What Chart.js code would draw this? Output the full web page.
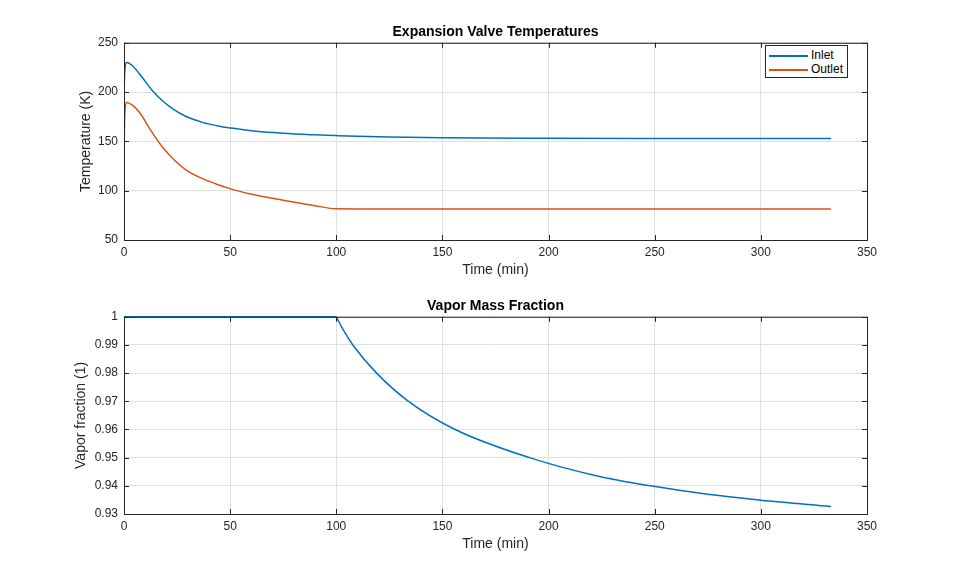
<!DOCTYPE html>
<html lang="en">
<head>
    <meta charset="UTF-8">
    <title>Expansion Valve Temperatures</title>
    <script src="https://cdn.jsdelivr.net/npm/chart.js"></script>
    <style>
        body { margin: 0; background: #fff; font-family: "Liberation Sans", Arial, sans-serif; }
        .wrap { position: relative; width: 959px; height: 577px; }
        .box { position: absolute; left: 0; width: 959px; }
        #legend {
            position: absolute; left: 765px; top: 45px; width: 81px; height: 31px;
            border: 1px solid #262626; background: #fff; font-size: 12px; color: #000;
        }
        #legend div { position: absolute; left: 3px; height: 14px; line-height: 14px; }
        #legend span.sw { display: inline-block; width: 39px; height: 2px; vertical-align: middle; margin-right: 3px; }
    </style>
</head>
<body>
<div class="wrap">
    <div class="box" style="top:0;height:290px"><canvas id="tempChart"></canvas></div>
    <div class="box" style="top:290px;height:287px"><canvas id="vaporChart"></canvas></div>
    <div id="legend">
        <div style="top:2px"><span class="sw" style="background:#0072BD"></span>Inlet</div>
        <div style="top:16px"><span class="sw" style="background:#D95319"></span>Outlet</div>
    </div>
</div>

<script>
    // time (min) and temperatures (K)
    const tempTime = [0, 0.4, 1.3, 3.8, 7, 13, 18, 23, 29, 37, 45, 50, 59, 75, 90, 100, 110, 125, 150, 200, 250, 300, 333];
    const inletTemp = [200, 222, 229.9, 227, 219.4, 202.4, 191.5, 183, 175.5, 169.3, 165.4, 163.7, 161.1, 158.3, 156.7, 155.9, 155.2, 154.5, 153.7, 153.2, 153, 153, 153];
    const outletTemp = [137.8, 178, 189.5, 187, 180.3, 159.9, 144.6, 132.7, 121.4, 112.2, 105.6, 102.1, 96.8, 90.3, 84.8, 81.6, 81.5, 81.5, 81.5, 81.5, 81.5, 81.5, 81.5];

    // vapor mass fraction (bottom plot): saturated until 100 min, then decaying
    const vaporFlatTime = [0, 100];
    const vaporFlat = [1, 1];
    const vaporTime = [100, 103.7, 107.8, 119, 134, 156, 191, 224, 248, 275, 300, 333];
    const vaporFrac = [1, 0.9948, 0.99, 0.98, 0.97, 0.96, 0.95, 0.9433, 0.94, 0.937, 0.9349, 0.9327];

    const tickColor = '#262626';
    const gridColor = '#dfdfdf';
    const baseFont = "'Liberation Sans', Arial, sans-serif";

    const toPts = (xs, ys) => xs.map((x, i) => ({ x: x, y: ys[i] }));

    // black box around the plot with small inward ticks, like the original
    const boxPlugin = {
        id: 'box',
        afterDraw(chart) {
            const { ctx, chartArea: a, scales } = chart;
            ctx.save();
            ctx.strokeStyle = tickColor;
            ctx.lineWidth = 1;
            ctx.strokeRect(a.left + 0.5, a.top + 0.5, a.right - a.left, a.bottom - a.top);
            ctx.beginPath();
            scales.x.ticks.forEach(t => {
                const px = Math.round(scales.x.getPixelForValue(t.value)) + 0.5;
                ctx.moveTo(px, a.bottom); ctx.lineTo(px, a.bottom - 5);
                ctx.moveTo(px, a.top); ctx.lineTo(px, a.top + 5);
            });
            scales.y.ticks.forEach(t => {
                const py = Math.round(scales.y.getPixelForValue(t.value)) + 0.5;
                ctx.moveTo(a.left, py); ctx.lineTo(a.left + 5, py);
                ctx.moveTo(a.right, py); ctx.lineTo(a.right - 5, py);
            });
            ctx.stroke();
            ctx.restore();
        }
    };

    function makeOptions(cfg) {
        return {
            responsive: true,
            maintainAspectRatio: false,
            animation: false,
            layout: { padding: { left: 0, right: 92, top: 0, bottom: 0 } },
            elements: { point: { radius: 0 }, line: { borderWidth: 1.5, cubicInterpolationMode: 'monotone' } },
            plugins: {
                legend: { display: false },
                tooltip: { enabled: false },
                title: {
                    display: true,
                    fullSize: false,
                    text: cfg.title,
                    color: '#000',
                    font: { family: baseFont, size: 14, weight: 'bold' },
                    padding: cfg.titlePad
                }
            },
            scales: {
                x: {
                    type: 'linear',
                    min: 0, max: 350,
                    ticks: { stepSize: 50, color: tickColor, font: { family: baseFont, size: 12 }, padding: 5, maxRotation: 0 },
                    grid: { color: gridColor, drawTicks: false },
                    border: { display: false },
                    title: { display: true, text: 'Time (min)', color: tickColor, font: { family: baseFont, size: 14 }, padding: { top: 0, bottom: cfg.xTitleBottom } },
                    afterFit(s) { s.height = cfg.xHeight; }
                },
                y: {
                    min: cfg.yMin, max: cfg.yMax,
                    ticks: {
                        stepSize: cfg.yStep, color: tickColor, font: { family: baseFont, size: 12 }, padding: 6,
                        callback: v => String(+v.toFixed(2))
                    },
                    grid: { color: gridColor, drawTicks: false },
                    border: { display: false },
                    title: { display: true, text: cfg.yTitle, color: tickColor, font: { family: baseFont, size: 14 }, padding: { top: cfg.yTitleLeft, bottom: 0 } },
                    afterFit(s) { s.width = 124; }
                }
            }
        };
    }

    new Chart(document.getElementById('tempChart'), {
        type: 'line',
        data: {
            datasets: [
                { label: 'Inlet', data: toPts(tempTime, inletTemp), borderColor: '#0072BD', fill: false },
                { label: 'Outlet', data: toPts(tempTime, outletTemp), borderColor: '#D95319', fill: false }
            ]
        },
        options: makeOptions({
            title: 'Expansion Valve Temperatures',
            titlePad: { top: 24, bottom: 2 },
            xHeight: 50, xTitleBottom: 11,
            yMin: 50, yMax: 250, yStep: 50,
            yTitle: 'Temperature (K)', yTitleLeft: 78
        }),
        plugins: [boxPlugin]
    });

    new Chart(document.getElementById('vaporChart'), {
        type: 'line',
        data: {
            datasets: [
                { label: 'Vapor fraction', data: toPts(vaporFlatTime, vaporFlat), borderColor: '#0072BD', fill: false, clip: 2 },
                { label: 'Vapor fraction ', data: toPts(vaporTime, vaporFrac), borderColor: '#0072BD', fill: false, clip: 2 }
            ]
        },
        options: makeOptions({
            title: 'Vapor Mass Fraction',
            titlePad: { top: 8, bottom: 2 },
            xHeight: 63, xTitleBottom: 24,
            yMin: 0.93, yMax: 1, yStep: 0.01,
            yTitle: 'Vapor fraction (1)', yTitleLeft: 73
        }),
        plugins: [boxPlugin]
    });
</script>
</body>
</html>
